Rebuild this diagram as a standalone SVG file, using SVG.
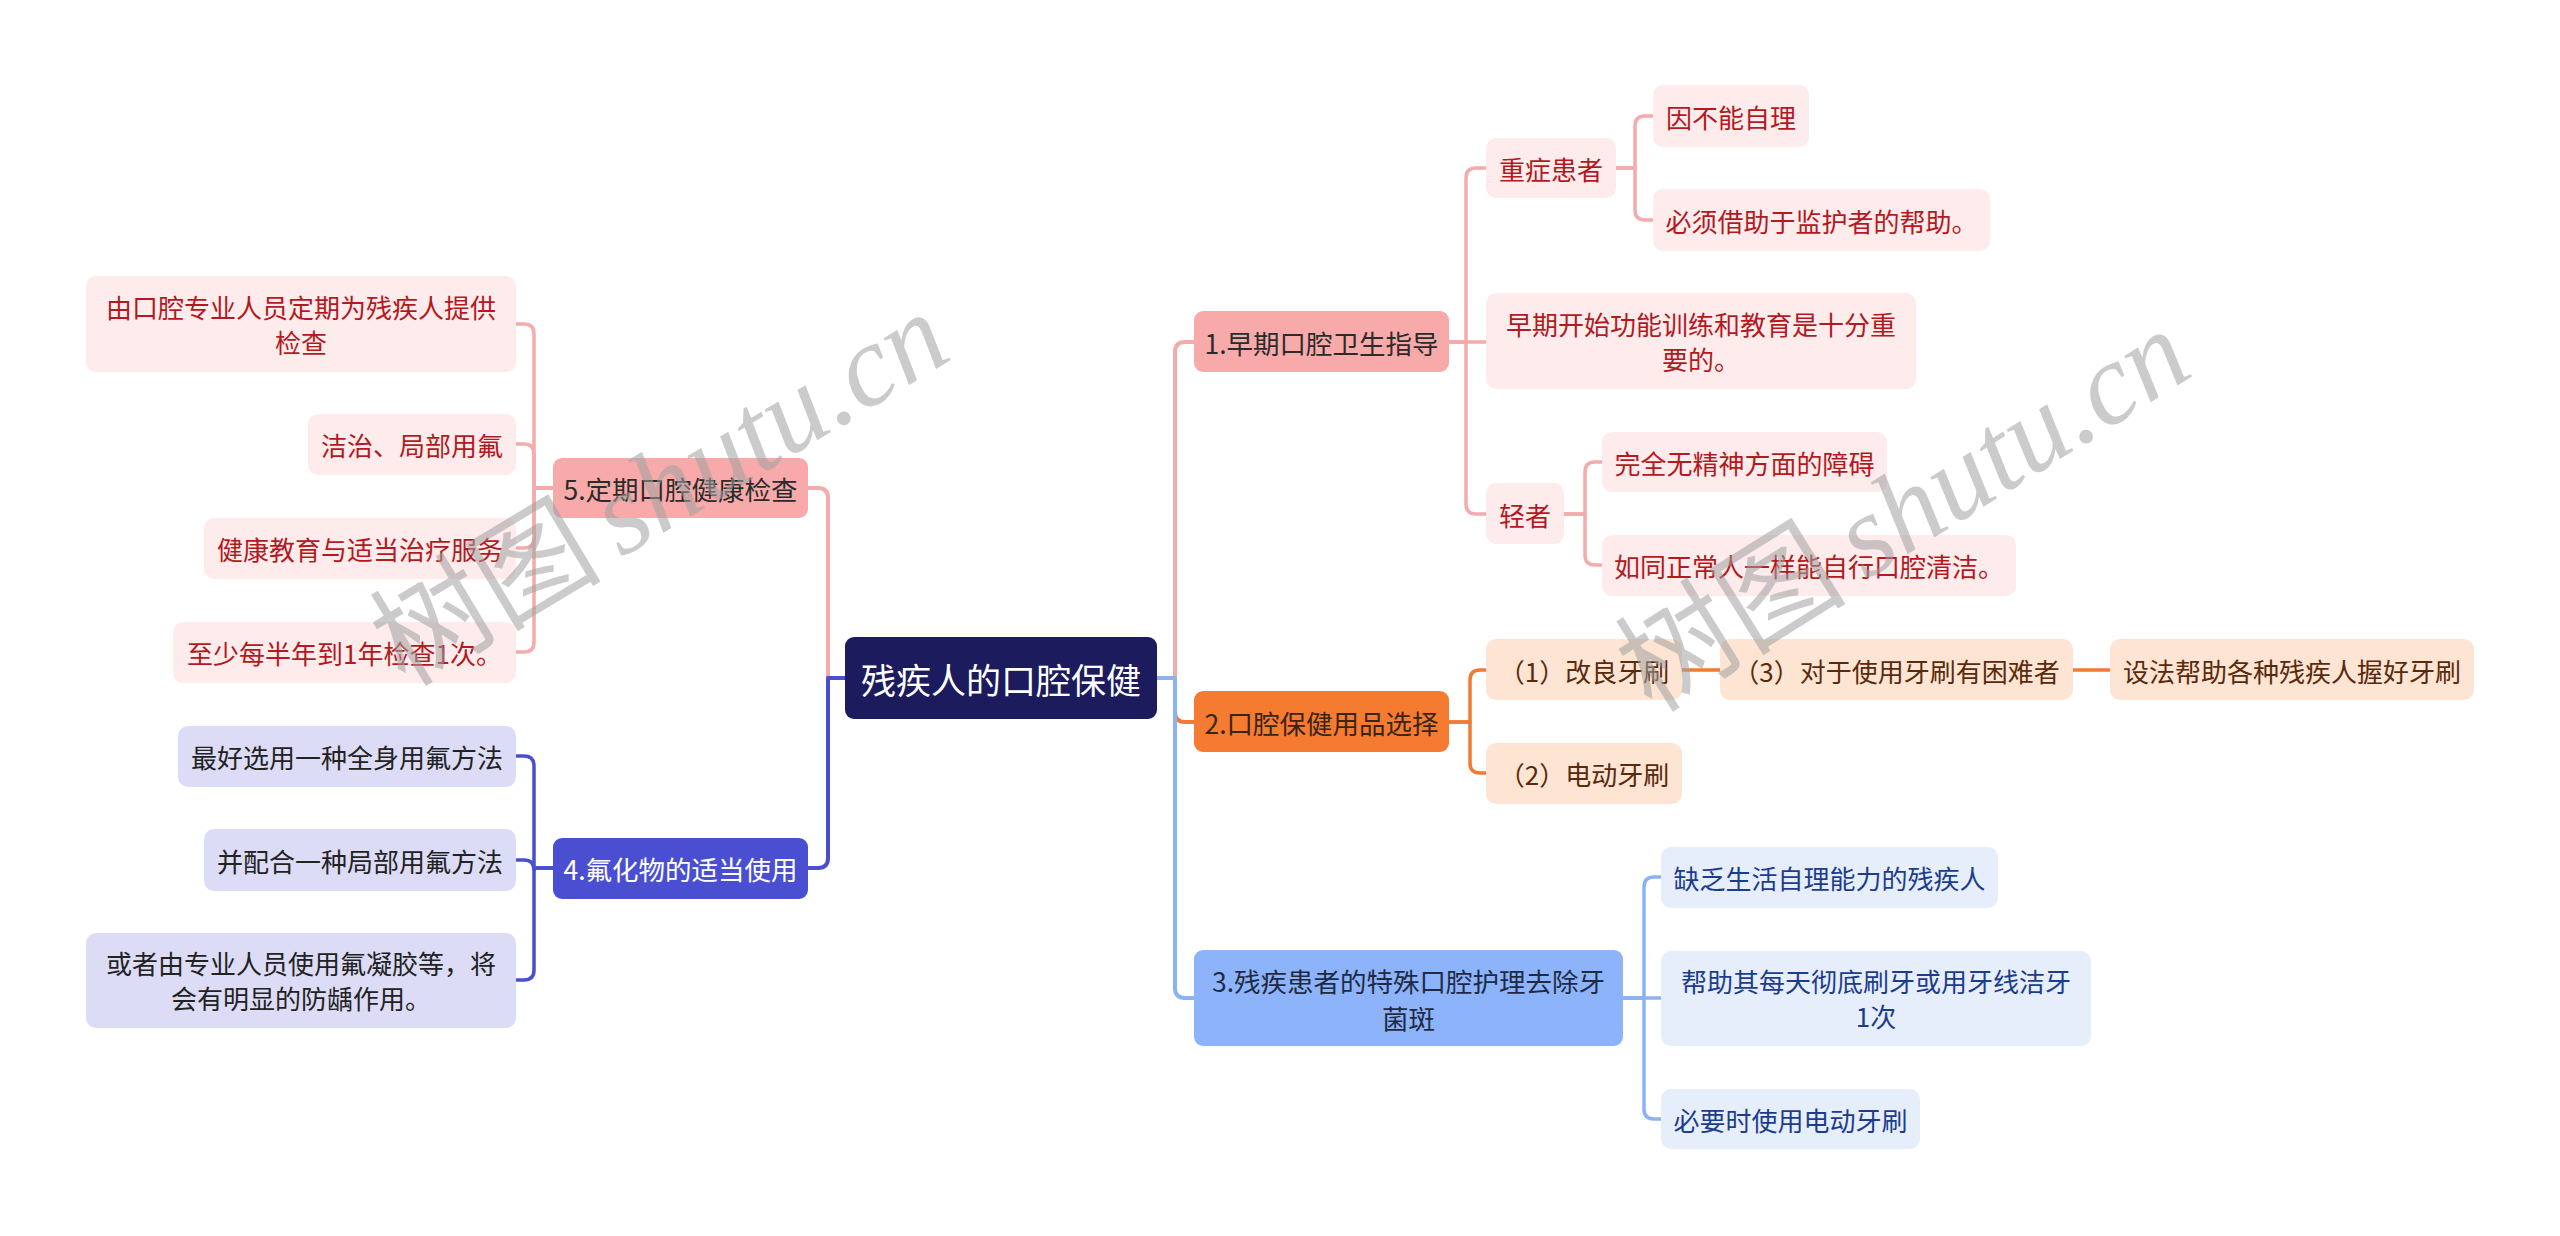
<svg xmlns="http://www.w3.org/2000/svg" width="2560" height="1236" viewBox="0 0 2560 1236">
<style>
text{font-family:"Noto Sans CJK SC","Noto Sans",sans-serif;text-anchor:middle;dominant-baseline:central}
.root text{font-size:35px;fill:#ffffff}
.l1 text{font-size:26.5px}
.lf text{font-size:26px}
.pk rect.b1{fill:#f8aaaa}
.pk.lf rect{fill:#fdeceb}
.pk.lf text{fill:#b3191e}
.pk.l1 text{fill:#2b2b2b}
.or.l1 rect{fill:#f47b30}
.or.l1 text{fill:#3a2414}
.or.lf rect{fill:#fde4d3}
.or.lf text{fill:#5a2a0c}
.bl.l1 rect{fill:#8db4fa}
.bl.l1 text{fill:#1f2a44}
.bl.lf rect{fill:#e6eefc}
.bl.lf text{fill:#1c3c8c}
.pu.l1 rect{fill:#4a4fd2}
.pu.l1 text{fill:#ffffff}
.pu.lf rect{fill:#dcdcf6}
.pu.lf text{fill:#222222}
.c{fill:none;stroke-linecap:round;stroke-linejoin:round}
.cpk{stroke:#f4abab}
.cor{stroke:#f07b34}
.cbl{stroke:#8ab2f5}
.cpu{stroke:#4a4fd0}
.w4{stroke-width:4}
.w3{stroke-width:3.5}
.wm{font-size:116px;fill:#a0a0a0;fill-opacity:0.55;text-anchor:start;dominant-baseline:alphabetic}
</style>

<g id="connectors">
  <path class="c cpk w4" d="M1157,678 H1175 V352 Q1175,342 1185,342 H1194"/>
  <path class="c cor w4" d="M1157,678 H1175 V712 Q1175,722 1185,722 H1194"/>
  <path class="c cbl w4" d="M1157,678 H1175 V988 Q1175,998 1185,998 H1194"/>
  <path class="c cpk w4" d="M845,678 H828 V498 Q828,488 818,488 H808"/>
  <path class="c cpu w4" d="M845,678 H828 V858 Q828,868 818,868 H808"/>
  <path class="c cpk w3" d="M1449,342 H1466 V178 Q1466,168 1476,168 H1486"/>
  <path class="c cpk w3" d="M1449,342 H1486"/>
  <path class="c cpk w3" d="M1449,342 H1466 V504 Q1466,514 1476,514 H1486"/>
  <path class="c cpk w3" d="M1616,168 H1635 V126 Q1635,116 1645,116 H1653"/>
  <path class="c cpk w3" d="M1616,168 H1635 V210 Q1635,220 1645,220 H1653"/>
  <path class="c cpk w3" d="M1564,514 H1585 V472 Q1585,462 1595,462 H1602"/>
  <path class="c cpk w3" d="M1564,514 H1585 V555 Q1585,565 1595,565 H1602"/>
  <path class="c cor w3" d="M1449,722 H1470 V680 Q1470,670 1480,670 H1486"/>
  <path class="c cor w3" d="M1449,722 H1470 V763 Q1470,773 1480,773 H1486"/>
  <path class="c cor w3" d="M1682,670 H1720"/>
  <path class="c cor w3" d="M2073,670 H2110"/>
  <path class="c cbl w3" d="M1623,998 H1644 V887 Q1644,877 1654,877 H1661"/>
  <path class="c cbl w3" d="M1623,998 H1661"/>
  <path class="c cbl w3" d="M1623,998 H1644 V1109 Q1644,1119 1654,1119 H1661"/>
  <path class="c cpk w3" d="M553,488 H534 V334 Q534,324 524,324 H516"/>
  <path class="c cpk w3" d="M553,488 H534 V454 Q534,444 524,444 H516"/>
  <path class="c cpk w3" d="M553,488 H534 V538 Q534,548 524,548 H516"/>
  <path class="c cpk w3" d="M553,488 H534 V642 Q534,652 524,652 H516"/>
  <path class="c cpu w3" d="M553,868 H534 V766 Q534,756 524,756 H516"/>
  <path class="c cpu w3" d="M553,868 H534 V870 Q534,860 524,860 H516"/>
  <path class="c cpu w3" d="M553,868 H534 V970 Q534,980 524,980 H516"/>
</g>

<g id="root" class="root">
  <rect x="845" y="637" width="312" height="82" rx="9" fill="#1c1b5e"/>
  <text x="1001" y="678">残疾人的口腔保健</text>
</g>

<g id="n1" class="pk l1"><rect class="b1" x="1194" y="311" width="255" height="61" rx="9"/><text x="1321.5" y="342">1.早期口腔卫生指导</text></g>
<g id="n1a" class="pk lf"><rect x="1486" y="138" width="130" height="60" rx="10"/><text x="1551" y="168">重症患者</text></g>
<g id="n1a1" class="pk lf"><rect x="1653" y="85" width="156" height="62" rx="10"/><text x="1731" y="116">因不能自理</text></g>
<g id="n1a2" class="pk lf"><rect x="1653" y="189" width="337" height="62" rx="10"/><text x="1821.5" y="220">必须借助于监护者的帮助。</text></g>
<g id="n1b" class="pk lf"><rect x="1486" y="293" width="430" height="96" rx="10"/><text x="1701" y="323.5">早期开始功能训练和教育是十分重</text><text x="1701" y="358.5">要的。</text></g>
<g id="n1c" class="pk lf"><rect x="1486" y="483" width="78" height="61" rx="10"/><text x="1525" y="514">轻者</text></g>
<g id="n1c1" class="pk lf"><rect x="1602" y="432" width="285" height="60" rx="10"/><text x="1744.5" y="462">完全无精神方面的障碍</text></g>
<g id="n1c2" class="pk lf"><rect x="1602" y="535" width="414" height="61" rx="10"/><text x="1809" y="565">如同正常人一样能自行口腔清洁。</text></g>

<g id="n2" class="or l1"><rect x="1194" y="691" width="255" height="61" rx="9"/><text x="1321.5" y="722">2.口腔保健用品选择</text></g>
<g id="n2a" class="or lf"><rect x="1486" y="639" width="196" height="61" rx="10"/><text x="1584" y="670">（1）改良牙刷</text></g>
<g id="n2a1" class="or lf"><rect x="1720" y="639" width="353" height="61" rx="10"/><text x="1896.5" y="670">（3）对于使用牙刷有困难者</text></g>
<g id="n2a2" class="or lf"><rect x="2110" y="639" width="364" height="61" rx="10"/><text x="2292" y="670">设法帮助各种残疾人握好牙刷</text></g>
<g id="n2b" class="or lf"><rect x="1486" y="743" width="196" height="61" rx="10"/><text x="1584" y="773">（2）电动牙刷</text></g>

<g id="n3" class="bl l1"><rect x="1194" y="950" width="429" height="96" rx="9"/><text x="1408.5" y="980">3.残疾患者的特殊口腔护理去除牙</text><text x="1408.5" y="1017">菌斑</text></g>
<g id="n3a" class="bl lf"><rect x="1661" y="847" width="337" height="61" rx="10"/><text x="1829.5" y="877">缺乏生活自理能力的残疾人</text></g>
<g id="n3b" class="bl lf"><rect x="1661" y="951" width="430" height="95" rx="10"/><text x="1876" y="980.5">帮助其每天彻底刷牙或用牙线洁牙</text><text x="1876" y="1015.5">1次</text></g>
<g id="n3c" class="bl lf"><rect x="1661" y="1089" width="259" height="60" rx="10"/><text x="1790.5" y="1119">必要时使用电动牙刷</text></g>

<g id="n5" class="pk l1"><rect class="b1" x="553" y="458" width="255" height="60" rx="9"/><text x="680.5" y="488">5.定期口腔健康检查</text></g>
<g id="n5a" class="pk lf"><rect x="86" y="276" width="430" height="96" rx="10"/><text x="301" y="306.5">由口腔专业人员定期为残疾人提供</text><text x="301" y="341.5">检查</text></g>
<g id="n5b" class="pk lf"><rect x="308" y="414" width="208" height="61" rx="10"/><text x="412" y="444">洁治、局部用氟</text></g>
<g id="n5c" class="pk lf"><rect x="204" y="518" width="312" height="61" rx="10"/><text x="360" y="548">健康教育与适当治疗服务</text></g>
<g id="n5d" class="pk lf"><rect x="173" y="622" width="343" height="61" rx="10"/><text x="344.5" y="652">至少每半年到1年检查1次。</text></g>

<g id="n4" class="pu l1"><rect x="553" y="838" width="255" height="61" rx="9"/><text x="680.5" y="868">4.氟化物的适当使用</text></g>
<g id="n4a" class="pu lf"><rect x="178" y="726" width="338" height="61" rx="10"/><text x="347" y="756">最好选用一种全身用氟方法</text></g>
<g id="n4b" class="pu lf"><rect x="204" y="829" width="312" height="62" rx="10"/><text x="360" y="860">并配合一种局部用氟方法</text></g>
<g id="n4c" class="pu lf"><rect x="86" y="933" width="430" height="95" rx="10"/><text x="301" y="962.5">或者由专业人员使用氟凝胶等，将</text><text x="301" y="997.5">会有明显的防龋作用。</text></g>

<g id="watermark">
  <text class="wm" transform="translate(405,688) rotate(-31)">树图<tspan font-family="Liberation Serif" font-style="italic" dx="20">shutu.cn</tspan></text>
  <text class="wm" transform="translate(1652,714) rotate(-32)">树图<tspan font-family="Liberation Serif" font-style="italic" dx="20">shutu.cn</tspan></text>
</g>
</svg>
